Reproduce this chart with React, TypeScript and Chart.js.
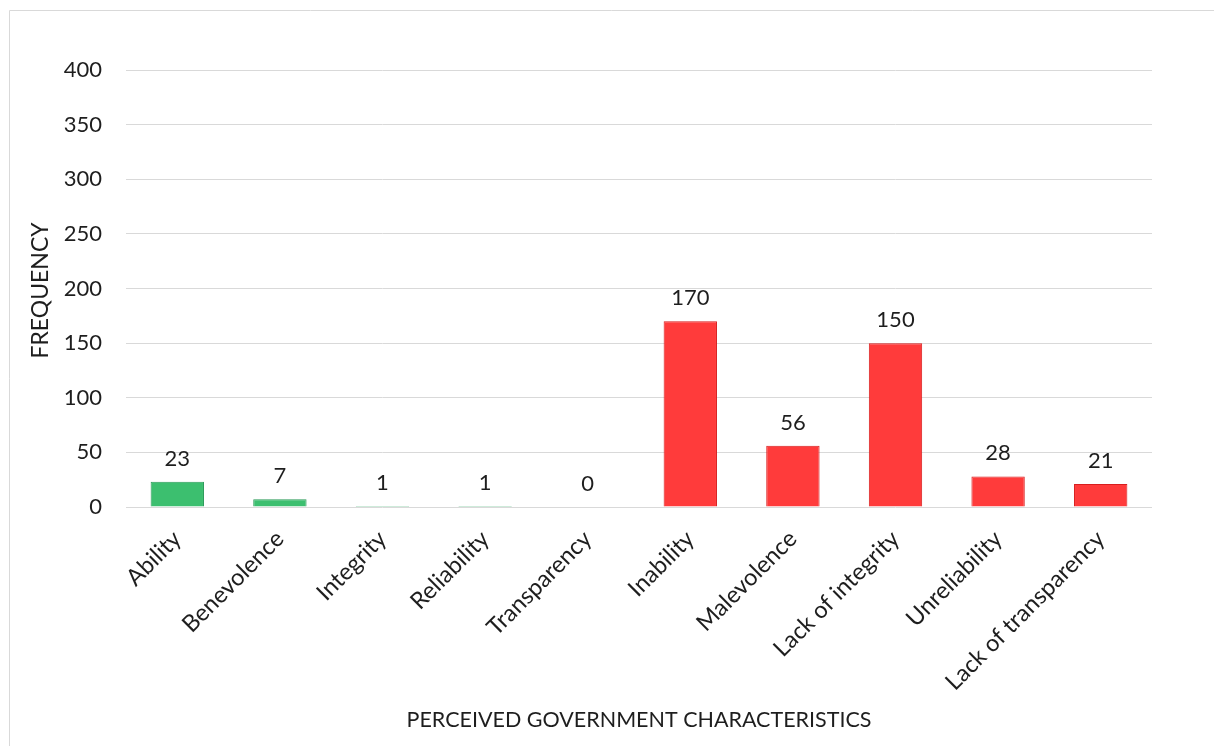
import React, { useEffect, useRef } from "react";
import { Chart, registerables } from "chart.js";

Chart.register(...registerables);

const categories = [
  "Ability",
  "Benevolence",
  "Integrity",
  "Reliability",
  "Transparency",
  "Inability",
  "Malevolence",
  "Lack of integrity",
  "Unreliability",
  "Lack of transparency",
];
const frequencies = [23, 7, 1, 1, 0, 170, 56, 150, 28, 21];
const positive = [true, true, true, true, true, false, false, false, false, false];
const yTicks = [0, 50, 100, 150, 200, 250, 300, 350, 400];

const FONT = "Lato, 'Open Sans', sans-serif";
const TEXT = "#1e1e1e";
const GREEN = "#3cbf6f";
const GREEN_EDGE = "#2a9a58";
const RED = "#ff3b3b";
const RED_EDGE = "#d81e1e";

const decorPlugin = {
  id: "decor",
  beforeDraw(chart: any) {
    const { ctx } = chart;
    ctx.save();
    ctx.strokeStyle = "#d9d9d9";
    ctx.lineWidth = 1;
    ctx.beginPath();
    ctx.moveTo(9.5, chart.height);
    ctx.lineTo(9.5, 10.5);
    ctx.lineTo(chart.width, 10.5);
    ctx.stroke();
    ctx.restore();
  },
  afterDraw(chart: any) {
    const { ctx, chartArea } = chart;
    const meta = chart.getDatasetMeta(0);
    ctx.save();
    ctx.fillStyle = TEXT;
    ctx.font = `22px ${FONT}`;
    ctx.textAlign = "center";
    ctx.textBaseline = "alphabetic";
    meta.data.forEach((bar: any, i: number) => {
      ctx.fillText(String(frequencies[i]), bar.x, bar.y - 16);
    });
    // axis titles
    ctx.font = `21.5px ${FONT}`;
    ctx.textBaseline = "middle";
    ctx.fillText(
      "PERCEIVED GOVERNMENT CHARACTERISTICS",
      (chartArea.left + chartArea.right) / 2,
      720
    );
    ctx.font = `23px ${FONT}`;
    ctx.translate(41, (chartArea.top + chartArea.bottom) / 2 + 2);
    ctx.rotate(-Math.PI / 2);
    ctx.fillText("FREQUENCY", 0, 0);
    ctx.restore();
  },
};

export default function App() {
  const ref = useRef<HTMLCanvasElement | null>(null);

  useEffect(() => {
    if (!ref.current) return;
    const chart = new Chart(ref.current, {
      type: "bar",
      data: {
        labels: categories,
        datasets: [
          {
            data: frequencies,
            backgroundColor: positive.map((p) => (p ? GREEN : RED)),
            borderColor: positive.map((p) => (p ? GREEN_EDGE : RED_EDGE)),
            borderWidth: 1,
            categoryPercentage: 1,
            barPercentage: 0.52,
          },
        ],
      },
      options: {
        animation: false,
        responsive: true,
        maintainAspectRatio: false,
        layout: { padding: { left: 0, top: 70, right: 62, bottom: 0 } },
        plugins: {
          legend: { display: false },
          tooltip: { enabled: false },
        },
        scales: {
          x: {
            grid: { display: false },
            border: { display: false },
            ticks: {
              color: TEXT,
              font: { family: FONT, size: 23.5 },
              autoSkip: false,
              maxRotation: 45,
              minRotation: 45,
              padding: 10,
            },
            afterFit(scale: any) {
              scale.height = 239;
            },
          },
          y: {
            min: 0,
            max: 400,
            afterBuildTicks(scale: any) {
              scale.ticks = yTicks.map((v) => ({ value: v }));
            },
            grid: { color: "#d9d9d9", lineWidth: 1, drawTicks: false },
            border: { display: false },
            ticks: {
              color: TEXT,
              font: { family: FONT, size: 22 },
              padding: 24,
            },
            afterFit(scale: any) {
              scale.width = 126;
            },
          },
        },
      },
      plugins: [decorPlugin],
    });
    return () => chart.destroy();
  }, []);

  return (
    <div style={{ position: "fixed", left: 0, top: 0, width: 1214, height: 746, background: "#fff" }}>
      <canvas ref={ref} />
    </div>
  );
}
